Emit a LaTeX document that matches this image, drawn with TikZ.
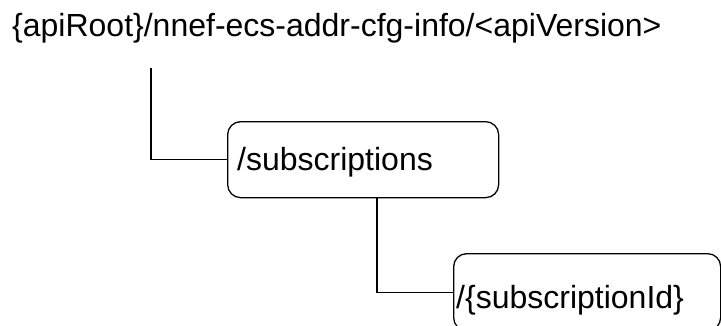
\documentclass[tikz,border=0pt]{standalone}
\usepackage{fontspec}
\setmainfont{Liberation Sans}
\begin{document}
\begin{tikzpicture}[x=1pt,y=-1pt,
  box/.style={draw=black,line width=1.3pt,rounded corners=13pt,rectangle,inner sep=0pt,anchor=north west},
  lbl/.style={font=\fontsize{32pt}{36pt}\selectfont,inner sep=0pt,anchor=base west},
  conn/.style={draw=black,line width=1.3pt}]
\useasboundingbox (0,0) rectangle (721,325);
\clip (0,0) rectangle (721,325);
\node[lbl] (root) at (12,36) {\{apiRoot\}/nnef-ecs-addr-cfg-info/<apiVersion>};
\coordinate (r1) at (151,68);
\node[box,minimum width=271pt,minimum height=76pt] (sub) at (227,121) {};
\node[lbl] (subt) at (237,170) {/subscriptions};
\node[box,minimum width=267pt,minimum height=77pt] (sid) at (453,253) {};
\node[lbl] (sidt) at (456,308) {/\{subscriptionId\}};
\coordinate (s1) at (377,197);
\draw[conn] (r1) |- (sub.west);
\draw[conn] (s1) |- (sid.west);
\end{tikzpicture}
\end{document}
